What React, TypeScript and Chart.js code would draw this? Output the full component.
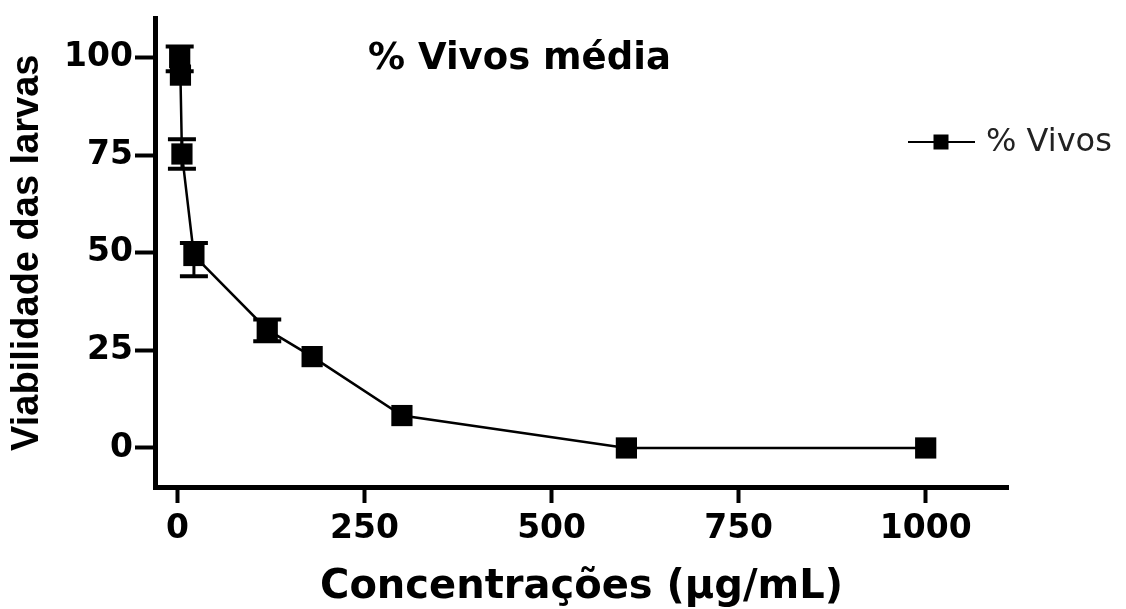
import React, { useEffect, useRef } from 'react';
import { Chart, registerables } from 'chart.js';

Chart.register(...registerables);

// ---- data ----
const concentrations = [3, 4, 6, 22, 120, 180, 300, 600, 1000];
const viability = [100, 95.5, 75.3, 49.3, 30.3, 23.4, 8.3, 0, 0];
const errorUp = [2.8, 0, 3.8, 3.2, 2.6, 0, 0, 0, 0];
const errorDown = [3.5, 0, 3.8, 5.3, 3.0, 0, 0, 0, 0];
const xTicks = [0, 250, 500, 750, 1000];
const yTicks = [0, 25, 50, 75, 100];
const seriesLabel = '% Vivos';
const chartTitle = '% Vivos média';
const xTitle = 'Concentrações (µg/mL)';
const yTitle = 'Viabilidade das larvas';

const errorBarPlugin = {
  id: 'errorBars',
  beforeDatasetsDraw(chart: any) {
    const { ctx } = chart;
    const xs = chart.scales.x;
    const ys = chart.scales.y;
    ctx.save();
    ctx.strokeStyle = '#000';
    ctx.lineCap = 'butt';
    concentrations.forEach((c, i) => {
      if (errorUp[i] === 0 && errorDown[i] === 0) return;
      const px = xs.getPixelForValue(c);
      const top = ys.getPixelForValue(viability[i] + errorUp[i]);
      const bot = ys.getPixelForValue(viability[i] - errorDown[i]);
      ctx.lineWidth = 3;
      ctx.beginPath();
      ctx.moveTo(px, top);
      ctx.lineTo(px, bot);
      ctx.stroke();
      ctx.lineWidth = 4;
      ctx.beginPath();
      ctx.moveTo(px - 14, top);
      ctx.lineTo(px + 14, top);
      ctx.moveTo(px - 14, bot);
      ctx.lineTo(px + 14, bot);
      ctx.stroke();
    });
    ctx.restore();
  },
};

const annotationPlugin = {
  id: 'titleLegend',
  afterDraw(chart: any) {
    const { ctx, chartArea } = chart;
    ctx.save();
    ctx.fillStyle = '#000';
    ctx.font = 'bold 37px "DejaVu Sans"';
    ctx.textAlign = 'left';
    ctx.textBaseline = 'middle';
    ctx.fillText(chartTitle, chartArea.left + 213, 59);
    const ly = 142;
    const lx = 908;
    ctx.strokeStyle = '#000';
    ctx.lineWidth = 2;
    ctx.beginPath();
    ctx.moveTo(lx, ly);
    ctx.lineTo(lx + 67, ly);
    ctx.stroke();
    ctx.fillStyle = '#000';
    ctx.fillRect(lx + 33 - 7.5, ly - 7.5, 15, 15);
    ctx.fillStyle = '#222';
    ctx.font = '32px "DejaVu Sans"';
    ctx.fillText(chart.data.datasets[0].label, lx + 78, ly + 1);
    ctx.restore();
  },
};

export default function App() {
  const canvasRef = useRef<HTMLCanvasElement | null>(null);

  useEffect(() => {
    document.body.style.margin = '0';
    const canvas = canvasRef.current;
    if (!canvas) return;
    const chart = new Chart(canvas, {
      type: 'line',
      data: {
        datasets: [
          {
            label: seriesLabel,
            data: concentrations.map((c, i) => ({ x: c, y: viability[i] })),
            borderColor: '#000',
            backgroundColor: '#000',
            borderWidth: 2.5,
            pointStyle: 'rect',
            pointRadius: 15,
            pointBorderWidth: 0,
            pointBackgroundColor: '#000',
            tension: 0,
            clip: false as any,
          },
        ],
      },
      options: {
        animation: false,
        responsive: true,
        maintainAspectRatio: false,
        layout: { padding: { left: 0, right: 118, top: 12, bottom: 0 } },
        plugins: {
          legend: { display: false },
          tooltip: { enabled: false },
          title: { display: false },
        },
        scales: {
          x: {
            type: 'linear',
            min: -30,
            max: 1110,
            afterBuildTicks: (s: any) => {
              s.ticks = xTicks.map((v) => ({ value: v }));
            },
            afterFit: (s: any) => {
              s.height = 122;
            },
            border: { display: true, color: '#000', width: 5 },
            grid: {
              display: true,
              drawOnChartArea: false,
              drawTicks: true,
              tickLength: 16,
              tickWidth: 4,
              tickColor: '#000',
            },
            ticks: {
              autoSkip: false,
              maxRotation: 0,
              padding: 10,
              color: '#000',
              callback: (v: any) => String(v),
              font: { family: 'DejaVu Sans', weight: 'bold', size: 33, lineHeight: 1 },
            },
            title: {
              display: true,
              text: xTitle,
              color: '#000',
              font: { family: 'DejaVu Sans', weight: 'bold', size: 40, lineHeight: 1 },
              padding: { top: 0, bottom: 1 },
            },
          },
          y: {
            type: 'linear',
            min: -10,
            max: 110,
            afterBuildTicks: (s: any) => {
              s.ticks = yTicks.map((v) => ({ value: v }));
            },
            afterFit: (s: any) => {
              s.width = 155;
            },
            border: { display: true, color: '#000', width: 5 },
            grid: {
              display: true,
              drawOnChartArea: false,
              drawTicks: true,
              tickLength: 20,
              tickWidth: 4,
              tickColor: '#000',
            },
            ticks: {
              autoSkip: false,
              padding: 2,
              color: '#000',
              callback: (v: any) => String(v),
              font: { family: 'DejaVu Sans', weight: 'bold', size: 33, lineHeight: 1 },
            },
            title: {
              display: true,
              text: yTitle,
              color: '#000',
              font: { family: 'Liberation Sans', weight: 'bold', size: 38, lineHeight: 1 },
              padding: { top: 9, bottom: 0 },
            },
          },
        },
      },
      plugins: [errorBarPlugin, annotationPlugin],
    });
    return () => chart.destroy();
  }, []);

  return (
    <div style={{ position: 'absolute', left: 0, top: 0, width: 1126, height: 609, background: '#fff' }}>
      <canvas ref={canvasRef} />
    </div>
  );
}
